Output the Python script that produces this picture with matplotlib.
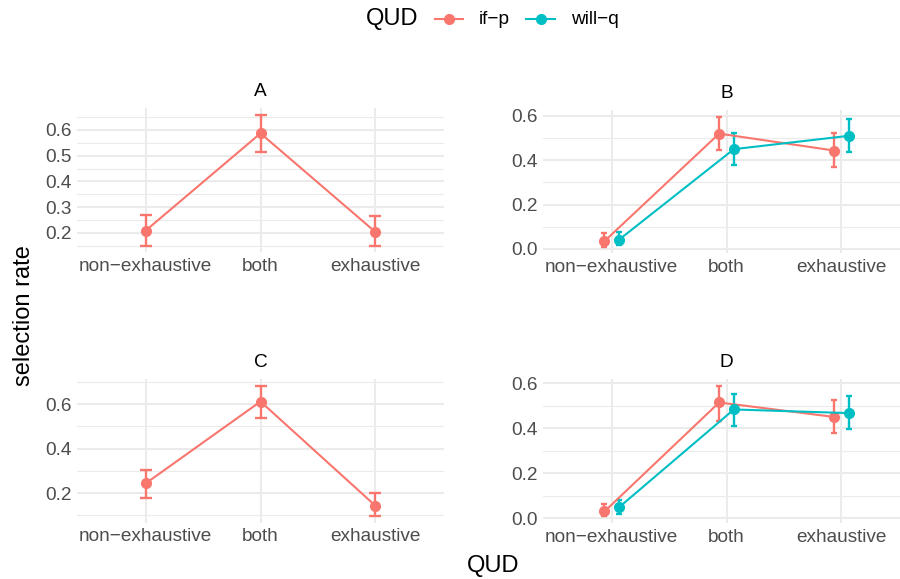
import matplotlib
matplotlib.use("Agg")
import matplotlib.pyplot as plt
from matplotlib.ticker import MultipleLocator
from matplotlib.lines import Line2D

plt.rcParams['font.family'] = ['Liberation Sans', 'DejaVu Sans']

categories = ["non\u2212exhaustive", "both", "exhaustive"]
series = ["if\u2212p", "will\u2212q"]
colors = {"if\u2212p": "#F8766D", "will\u2212q": "#00BFC4"}

# panel -> series -> (mean, lower, upper) per category
A_ifp = ([0.209, 0.587, 0.204], [0.149, 0.516, 0.149], [0.270, 0.660, 0.265])
B_ifp = ([0.035, 0.519, 0.443], [0.011, 0.446, 0.368], [0.073, 0.596, 0.522])
B_willq = ([0.042, 0.449, 0.509], [0.016, 0.377, 0.437], [0.078, 0.522, 0.583])
C_ifp = ([0.244, 0.612, 0.144], [0.178, 0.540, 0.097], [0.304, 0.684, 0.199])
D_ifp = ([0.031, 0.514, 0.450], [0.009, 0.433, 0.380], [0.065, 0.589, 0.524])
D_willq = ([0.050, 0.483, 0.467], [0.021, 0.408, 0.396], [0.082, 0.550, 0.542])

panels = {
    "A": {"if\u2212p": A_ifp},
    "B": {"if\u2212p": B_ifp, "will\u2212q": B_willq},
    "C": {"if\u2212p": C_ifp},
    "D": {"if\u2212p": D_ifp, "will\u2212q": D_willq},
}

W, H = 900, 579
fig = plt.figure(figsize=(9, 5.79), dpi=100)

def box(l, r, t, b):
    return [l / W, 1 - b / H, (r - l) / W, (b - t) / H]

pos = {
    "A": box(77, 444, 108, 252.5),
    "B": box(543, 910, 110, 253),
    "C": box(77, 444, 379, 522.5),
    "D": box(543, 910, 379, 523),
}
major = {"A": 0.1, "B": 0.2, "C": 0.2, "D": 0.2}

for name, data in panels.items():
    ax = fig.add_axes(pos[name])
    two = len(data) > 1
    for i, (s, (m, lo, hi)) in enumerate(data.items()):
        off = (-0.064 if i == 0 else 0.064) if two else 0.0
        x = [k + 1 + off for k in range(len(categories))]
        err = [[mm - l for mm, l in zip(m, lo)], [h - mm for mm, h in zip(m, hi)]]
        ax.errorbar(x, m, yerr=err, color=colors[s], lw=1.5, elinewidth=1.7,
                    capsize=2.3 if two else 4.6, capthick=1.7,
                    marker="o", markersize=7, zorder=3)
    ax.set_xlim(0.4, 3.6)
    ax.set_xticks([1, 2, 3])
    ax.set_xticklabels(categories)
    ax.yaxis.set_major_locator(MultipleLocator(major[name]))
    ax.yaxis.set_minor_locator(MultipleLocator(major[name] / 2))
    ax.yaxis.set_major_formatter(plt.FuncFormatter(lambda v, p: f"{v:.1f}"))
    ax.grid(True, which="major", color="#EBEBEB", lw=1.5)
    ax.grid(True, which="minor", axis="y", color="#EBEBEB", lw=0.8)
    ax.set_axisbelow(True)
    for sp in ax.spines.values():
        sp.set_visible(False)
    ax.tick_params(which="both", length=0, labelsize=13.7, labelcolor="#4D4D4D", pad=4)
    ax.set_title(name, fontsize=13.7, color="black", pad=8.5)

fig.text(24 / W, 1 - 316 / H, "selection rate", rotation=90, ha="center", va="center", fontsize=17)
fig.text(493 / W, 1 - 566 / H, "QUD", ha="center", va="center", fontsize=17)

# legend across the top, drawn in figure pixels
ly = 1 - 19 / H
fig.text(366 / W, ly, "QUD", ha="left", va="center", fontsize=17)
for s, (x0, x1, tx) in zip(series, [(435, 463, 479), (526, 555, 571)]):
    fig.add_artist(Line2D([x0 / W, x1 / W], [ly, ly], color=colors[s], lw=1.5,
                          transform=fig.transFigure))
    fig.add_artist(Line2D([(x0 + x1) / 2 / W], [ly], color=colors[s], marker="o",
                          markersize=7, transform=fig.transFigure))
    fig.text(tx / W, ly, s, ha="left", va="center", fontsize=13.7)

fig.savefig("out.png", dpi=100)
